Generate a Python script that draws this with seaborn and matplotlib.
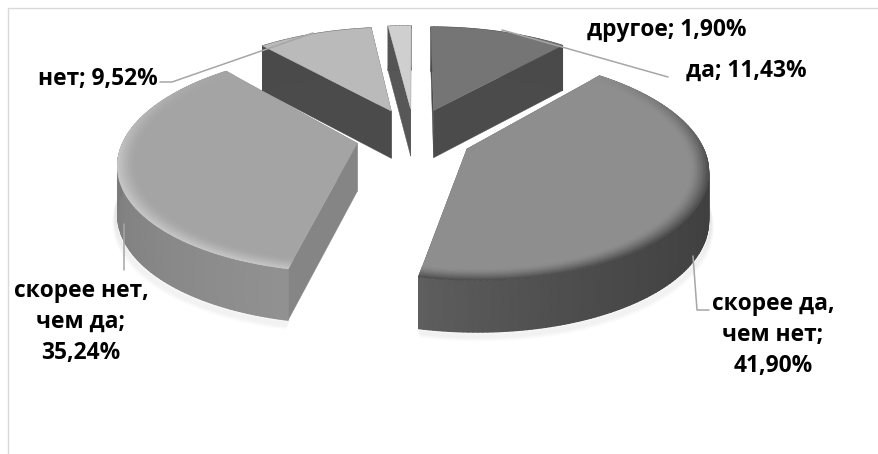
import numpy as np
import matplotlib
matplotlib.use("Agg")
import matplotlib.pyplot as plt
import seaborn as sns

categories = ["да", "скорее да,\nчем нет", "скорее нет,\nчем да", "нет", "другое"]
values = [11.43, 41.90, 35.24, 9.52, 1.90]
value_labels = ["11,43%", "41,90%", "35,24%", "9,52%", "1,90%"]

# grey levels, 0 to 1
top_grey = [0.46, 0.555, 0.645, 0.73, 0.81]
rim_grey = [0.46, 0.30, 0.78, 0.73, 0.81]
wall_a = [0.29, 0.24, 0.57, 0.29, 0.33]
wall_b = [0.29, 0.37, 0.42, 0.29, 0.33]
cut_grey = [0.295, 0.36, 0.52, 0.295, 0.34]

sns.set_theme(style="white")
plt.rcParams["font.family"] = ["Open Sans", "DejaVu Sans"]

CX, CY, A, B, P, EX, EY = 414.0, 136.0, 232.0, 105.0, 0.164, 0.25, 0.27


def proj(u, v, drop=False):
    w = 1 + P * v
    x = CX + A * u / w
    y = CY - B * v / w
    if drop:
        y = y + 48 / w ** 0.4
    return x, y


def grey(g):
    return (g, g, g)


fig = plt.figure(figsize=(8.79, 4.54), dpi=100, facecolor="white")
ax = fig.add_axes([0, 0, 1, 1])
ax.set_xlim(0, 879)
ax.set_ylim(454, 0)
ax.axis("off")

ax.plot([8, 8, 879], [454, 7.5, 7.5], color="#d9d9d9", lw=1.0, zorder=0)

edges = np.radians(np.concatenate([[0], np.cumsum(values)]) * 3.6)
order = [0, 4, 3, 2, 1]
z = 1
mesh = dict(shading="gouraud", cmap="gray", vmin=0, vmax=1)
for i in order:
    t0, t1 = edges[i], edges[i + 1]
    mid = (t0 + t1) / 2
    u0, v0 = EX * np.sin(mid), EY * np.cos(mid)
    ts = np.linspace(t0, t1, max(int(np.degrees(t1 - t0)), 6) + 1)
    ru = lambda r, t: u0 + r * np.sin(t)
    rv = lambda r, t: v0 + r * np.cos(t)

    # soft shadow under the front walls
    if i in (1, 2):
        bx, by = proj(ru(1, ts), rv(1, ts), True)
        for k in range(1, 9):
            ax.plot(bx + (k if i == 1 else -k) * 0.4, by + k * 0.9, color="#000000",
                    alpha=0.012, lw=3, zorder=z, solid_capstyle="round")
        z += 1

    # straight cut walls
    for t in (t0, t1):
        x0, y0 = proj(u0, v0)
        x1, y1 = proj(ru(1, t), rv(1, t))
        x2, y2 = proj(ru(1, t), rv(1, t), True)
        x3, y3 = proj(u0, v0, True)
        ax.fill([x0, x1, x2, x3], [y0, y1, y2, y3], color=grey(cut_grey[i]), lw=0.3, zorder=z)
    z += 1

    # curved wall with a smooth shade along the arc
    xa, ya = proj(ru(1, ts), rv(1, ts))
    xb, yb = proj(ru(1, ts), rv(1, ts), True)
    f = np.linspace(0, 1, len(ts))
    if i == 1:
        f = np.clip(f * 1.0, 0, 1) ** 3
    ax.pcolormesh(np.vstack([xa, xb]), np.vstack([ya, yb]),
                  np.vstack([wall_a[i] + (wall_b[i] - wall_a[i]) * f] * 2),
                  zorder=z, **mesh)
    z += 1

    # top face
    xs, ys = proj(np.r_[u0, ru(1, ts)], np.r_[v0, rv(1, ts)])
    ax.fill(xs, ys, color=grey(top_grey[i]), lw=0.3, zorder=z)
    z += 1

    # bevel along the near rim of the two big slices
    if i in (1, 2):
        radii = np.linspace(1, 0.93, 7)
        front = np.linspace(t0, t1, 120)
        U = np.array([ru(r, front) for r in radii])
        V = np.array([rv(r, front) for r in radii])
        X, Y = proj(U, V)
        strength = np.clip((0.75 - np.cos(front)) / 0.9, 0, 1)
        fall = np.linspace(1, 0, len(radii))[:, None] ** 1.3
        C = top_grey[i] + (rim_grey[i] - top_grey[i]) * fall * strength[None, :]
        ax.pcolormesh(X, Y, C, zorder=z, **mesh)
        z += 1

# leader lines
leader_col = "#a6a6a6"
for xs, ys in [([502, 668], [30, 77]),
               ([160, 172, 313], [82, 82, 33]),
               ([124, 124], [224, 270]),
               ([693, 697, 709], [256, 310, 310])]:
    ax.plot(xs, ys, color=leader_col, lw=1.1, zorder=z)
z += 1

label_pos = [(746, 71), (773, 335), (81, 322), (98, 79), (667, 30)]
for name, val, (x, y) in zip(categories, value_labels, label_pos):
    sep = "\n" if "\n" in name else " "
    ax.text(x, y, f"{name};{sep}{val}", ha="center", va="center", fontsize=16.4,
            fontweight="bold", color="black", linespacing=1.38, zorder=z)

fig.savefig("out.png", dpi=100)
